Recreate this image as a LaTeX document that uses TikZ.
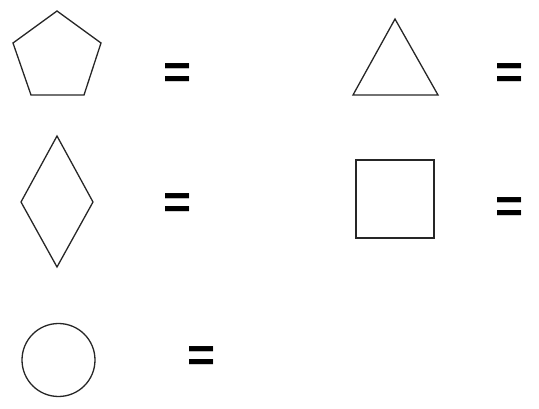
\documentclass[tikz,border=0pt]{standalone}
\usepackage{fontspec}
\setmainfont{Liberation Sans}
\begin{document}
\begin{tikzpicture}[x=1pt,y=-1pt,
  figline/.style={draw=black!85,line width=1.3pt,line join=miter},
  eq/.style={inner sep=0pt,font=\fontsize{48}{48}\selectfont\bfseries}]
\useasboundingbox (0,0) rectangle (539,409);
% pentagon
\draw[figline] (57,11) -- (101,43) -- (84,95) -- (31,95) -- (13,43) -- cycle;
\node[eq] (e1) at (178,76) {=};
% triangle
\draw[figline] (395,19) -- (438,95) -- (353,95) -- cycle;
\node[eq] (e2) at (510,76) {=};
% diamond
\draw[figline] (57,136) -- (93,202) -- (57,267) -- (21,202) -- cycle;
\node[eq] (e3) at (178,206) {=};
% square
\draw[figline] (356,160) rectangle (434,238);
\node[eq] (e4) at (510,210) {=};
% circle
\draw[figline] (58.5,360) circle (36.5);
\node[eq] (e5) at (202,359) {=};
\end{tikzpicture}
\end{document}
